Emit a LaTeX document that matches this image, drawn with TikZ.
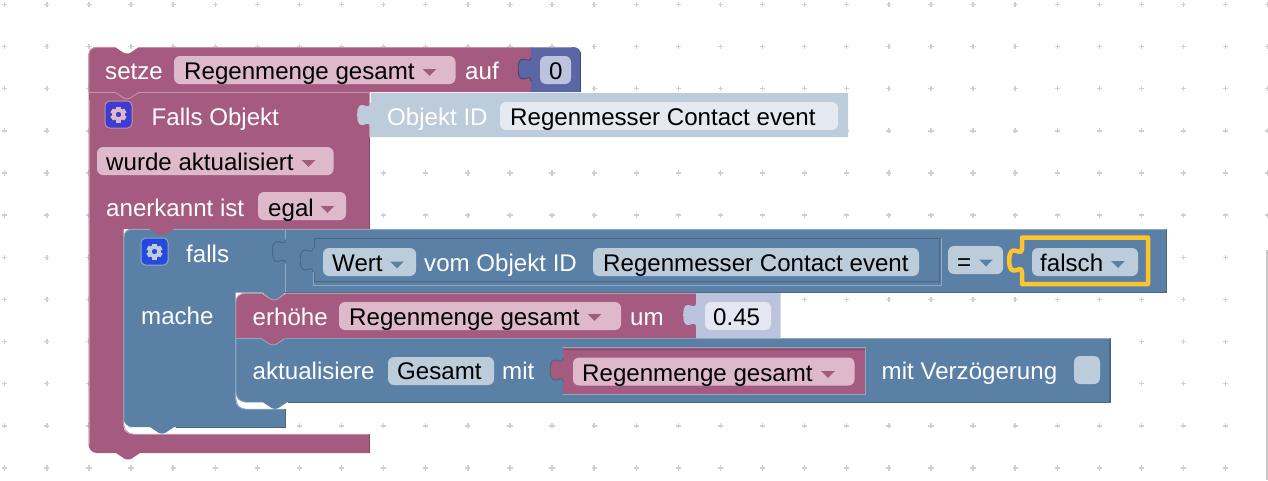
\documentclass[tikz,border=0pt]{standalone}
\usepackage{fontspec}
\setmainfont{Liberation Sans}
\definecolor{mg}{HTML}{A55B80}
\definecolor{mgl}{HTML}{C08FA8}
\definecolor{mgd}{HTML}{844966}
\definecolor{mgf}{HTML}{DDB9CB}
\definecolor{bl}{HTML}{5B80A5}
\definecolor{bll}{HTML}{8FA8C0}
\definecolor{bld}{HTML}{496684}
\definecolor{blf}{HTML}{BDCCDB}
\definecolor{pale}{HTML}{BDCCDB}
\definecolor{palef}{HTML}{E4EAF0}
\definecolor{lav}{HTML}{BCC3DD}
\definecolor{lavf}{HTML}{E4E7F1}
\definecolor{ind}{HTML}{5B67A5}
\definecolor{indl}{HTML}{8F98C0}
\definecolor{yel}{HTML}{FEC52E}
\definecolor{dotc}{HTML}{D0D0D0}
\definecolor{btna}{HTML}{3E3CD0}
\definecolor{btnb}{HTML}{2648DE}
\tikzset{
  x=1pt,y=-1pt,
  lbl/.style={inner sep=0pt,anchor=base west,font=\fontsize{24.1}{28}\selectfont},
  wht/.style={lbl,text=white},
  blk/.style={lbl,text=black},
  field/.style={rounded corners=6pt,draw=none},
}
\newcommand{\tabup}[2]{%
 -- (#1,#2+24) .. controls (#1,#2+14) and (#1-12.8,#2+32) .. (#1-12.8,#2+12)
 .. controls (#1-12.8,#2-8) and (#1,#2+10) .. (#1,#2)}
\newcommand{\tabline}[3]{%
 \draw[#3,line width=0.9pt] (#1,#2+24) .. controls (#1,#2+14) and (#1-12.8,#2+32) .. (#1-12.8,#2+12)
 .. controls (#1-12.8,#2-8) and (#1,#2+10) .. (#1,#2);}
\newcommand{\notchR}[2]{%
 -- (#1,#2) -- (#1+8.4,#2+5.6) .. controls (#1+10,#2+6.8) and (#1+14,#2+6.8) .. (#1+15.6,#2+5.6) -- (#1+24,#2)}
\newcommand{\notchL}[2]{%
 -- (#1+24,#2) -- (#1+15.6,#2+5.6) .. controls (#1+14,#2+6.8) and (#1+10,#2+6.8) .. (#1+8.4,#2+5.6) -- (#1,#2)}
\newcommand{\fieldbox}[6]{%
 \fill[field,#6] (#2,#3) rectangle (#4,#5);\coordinate (#1) at (#2,#3);}
\newcommand{\caretat}[3]{\fill[#3] (#1-6.8,#2-3.5) -- (#1+6.8,#2-3.5) -- (#1,#2+3.5) -- cycle;}
\newcommand{\gear}[3]{%
 \begin{scope}[shift={(#1,#2)}]
 \foreach \a in {0,60,...,300}{\fill[#3,rotate=\a] (-2.3,-8) rectangle (2.3,-4);}
 \fill[#3,even odd rule] (0,0) circle (6.4pt) (0,0) circle (2.8pt);
 \end{scope}}
\begin{document}
\begin{tikzpicture}
\useasboundingbox (0,0) rectangle (1268,480);
\fill[white] (0,0) rectangle (1268,480);
% dot grid
\foreach \i in {0,...,30}{\foreach \j in {0,...,11}{
  \pgfmathsetmacro\px{4.7+42.1*\i}\pgfmathsetmacro\py{4.5+42.13*\j}
  \fill[dotc] (\px-0.7,\py-2.6) rectangle (\px+0.7,\py+2.6);
  \fill[dotc] (\px-2.6,\py-0.7) rectangle (\px+2.6,\py+0.7);
}}
\fill[white] (1258,250) rectangle (1268,480);
\fill[black!22] (1266,250) rectangle (1268,480);

% big falls-object block
\fill[mg] (96.5,92) \notchR{115}{92} -- (369.7,92) -- (369.7,229) -- (123.5,229) -- (123.5,426)
  .. controls (123.5,431) and (127,434) .. (132,434) -- (369.7,434) -- (369.7,453) \notchL{116}{453}
  -- (97,453) .. controls (92,453) and (88.5,449) .. (88.5,444) -- (88.5,92) -- cycle;
\draw[mgl,line width=0.9pt] (123.5,420) .. controls (123.5,430) and (127,434.3) .. (134,434.3) -- (369,434.3);
\draw[mgl,line width=0.9pt] (89,100) -- (89,444);
\draw[mgd,line width=1pt] (369.6,434) -- (369.6,453);
\draw[mgd,line width=1pt] (369.6,137) -- (369.6,228.5);
% Objekt ID block
\fill[pale] (370,93) -- (848,93) -- (848,137) -- (370,137) \tabup{370}{103} -- cycle;
\draw[white,line width=0.8pt] (370,93) -- (370,103);
% top set block
\fill[mg] (88.5,92) -- (88.5,55) .. controls (88.5,50) and (92,47) .. (97,47) \notchR{115}{47} -- (531,47) -- (531,92) \notchL{115}{92} -- cycle;
\draw[mgl,line width=0.9pt] (88.9,92) -- (88.9,55) .. controls (88.9,50) and (92,47.4) .. (97,47.4) -- (115,47.4);
\draw[mgl,line width=0.9pt] (88.5,92.3) -- (115,92.3) -- (123.4,97.9) .. controls (125,99.1) and (129,99.1) .. (130.6,97.9) -- (139,92.3) -- (369,92.3);
\draw[mgl,line width=0.9pt] (139,47.4) -- (531,47.4);
% value block 0
\fill[ind] (531,47) -- (572.7,47) .. controls (577,47) and (580.7,49) .. (580.7,54) -- (580.7,92) -- (531,92) \tabup{531}{57} -- cycle;
\tabline{531}{57}{black!30!ind}
\draw[indl,line width=0.8pt] (532,47.4) -- (572,47.4);
\draw[black!30!ind,line width=1pt] (580.4,52) -- (580.4,92);
% condition extension
\fill[bl] (285,229) -- (1166.5,229) -- (1166.5,292.7) -- (285,292.7) -- cycle;
\draw[bll,line width=0.8pt] (285,229.4) -- (1166,229.4);
\draw[bld,line width=1.2pt] (1166.3,229) -- (1166.3,292.5) -- (285,292.5);
% falls block
\fill[bl] (132,229) -- (285.5,229) -- (285.5,292.7) -- (235.7,292.7) -- (235.7,400) .. controls (235.7,406) and (240,409) .. (245,409) -- (285,409) -- (285,427) \notchL{150}{427} -- (133,427) .. controls (127,427) and (123.5,423) .. (123.5,418) -- (123.5,238) .. controls (123.5,232) and (127,229) .. (132,229) -- cycle;
\draw[bll,line width=0.9pt] (124,418) -- (124,238) .. controls (124,232) and (127,229.4) .. (132,229.4) -- (284.7,229.4);
\fill[mg] (148,228) -- (175,228) -- (167,233.6) .. controls (164,235.6) and (159,235.6) .. (156,233.6) -- cycle;
\draw[bll,line width=0.9pt] (235.9,398) .. controls (235.9,405) and (240,409.2) .. (246,409.2) -- (284,409.2);
\draw[bld,line width=1pt] (285,409.2) -- (285,427) -- (176,427);
% condition joints
\draw[bll,line width=1pt] (285.3,229) -- (285.3,239.5) (285.3,263) -- (285.3,292);
\tabline{285.3}{239.5}{bld}
% statement: aktualisiere
\fill[bl] (235.7,338) -- (1110,338) -- (1110,402.3) \notchL{263}{402.3} -- (247,402.3) .. controls (240,402.3) and (235.7,398) .. (235.7,392) -- cycle;
\draw[bld,line width=1.1pt] (1110,338) -- (1110,402.3) -- (288,402.3);
\draw[bll,line width=0.8pt] (286,338.4) -- (1110,338.4);
\draw[bll,line width=0.9pt] (236,338) -- (236,392) .. controls (236,398) and (240,402) .. (247,402.3);
% erhoehe block
\fill[mg] (235.7,338) -- (235.7,302) .. controls (235.7,296.5) and (240,293) .. (246,293) \notchR{262}{293} -- (696,293) -- (696,338) \notchL{261}{338} -- cycle;
\fill[bl] (262,292) -- (286,292) -- (277.6,298.6) .. controls (276,299.8) and (272,299.8) .. (270.4,298.6) -- cycle;
\draw[mgl,line width=0.9pt] (236,337) -- (236,302) .. controls (236,296.5) and (240,293.4) .. (246,293.4) -- (262,293.4) -- (270.4,299) .. controls (272,300.2) and (276,300.2) .. (277.6,299) -- (286,293.4) -- (696,293.4);
\draw[bll,line width=0.9pt] (236,338.4) -- (261,338.4) -- (269.4,344) .. controls (271,345.2) and (275,345.2) .. (276.6,344) -- (285,338.4);
% 0.45 block
\fill[lav] (696,293) -- (780.7,293) -- (780.7,338) -- (696,338) \tabup{696}{303} -- cycle;
% Wert block
\fill[bl] (313,238) -- (940.7,238) -- (940.7,285) -- (313,285) \tabup{313}{248} -- cycle;
\draw[bld,line width=1pt] (940.7,238.4) -- (314,238.4) -- (314,248);
\tabline{313}{248}{bld}
\draw[bld,line width=1pt] (314,272) -- (314,281.5) -- (939.5,281.5) -- (939.5,238);
\draw[bll,line width=1pt] (313,285) -- (941.5,285) -- (941.5,238);
\draw[bll,line width=0.8pt] (313,272) -- (313,285);
% selected falsch block
\draw[yel,line width=4.5pt,line join=round] (1022,237.5) -- (1148,237.5) -- (1148,284) -- (1022,284) \tabup{1022}{248.5} -- cycle;
% var block
\fill[mg] (563,348) -- (865.5,348) -- (865.5,394) -- (563,394) \tabup{563}{358} -- cycle;
\tabline{563}{358}{bld}
\draw[bll,line width=0.9pt] (563,347.6) -- (865.6,347.6) -- (865.6,394.2) -- (563,394.2);
\draw[mgd,line width=0.9pt] (564,349) -- (864.5,349);
% fields
\fieldbox{f1}{174}{56}{455.5}{84}{mgf}
\fieldbox{f2}{540}{56}{571}{84}{lav}
\fieldbox{f3}{500}{102}{838}{130}{palef}
\fieldbox{f4}{97}{147}{333.5}{175}{mgf}
\fieldbox{f5}{258}{192}{346}{220}{mgf}
\fieldbox{f6}{323}{248}{416}{276}{blf}
\fieldbox{f7}{593}{248}{919}{276}{blf}
\fieldbox{f8}{948}{246}{1003}{274}{blf}
\fieldbox{f9}{1032}{248}{1138}{276}{blf}
\fieldbox{f10}{339}{302}{621}{330}{mgf}
\fieldbox{f11}{705}{302}{771}{330}{lavf}
\fieldbox{f12}{388}{357}{494}{385}{blf}
\fieldbox{f13}{573}{357.5}{854.5}{385.5}{mgf}
\fieldbox{f14}{1074}{356}{1100}{384}{blf}
% carets
\caretat{429.5}{72.5}{mg}
\caretat{308.5}{163.5}{mg}
\caretat{327.5}{209.5}{mg}
\caretat{397}{265}{bl}
\caretat{986}{263}{bl}
\caretat{1118}{264.5}{bl}
\caretat{594.5}{317.5}{mg}
\caretat{828}{374.5}{mg}
% buttons
\fill[mgl,rounded corners=5pt] (104.5,100.5) rectangle (132.5,128.5);
\fill[btna,rounded corners=4.5pt] (105.5,101.5) rectangle (131.5,127.5);
\gear{118.5}{114.5}{mgf}
\fill[bll,rounded corners=5pt] (140.5,237.5) rectangle (168.5,265.5);
\fill[btnb,rounded corners=4.5pt] (141.5,238.5) rectangle (167.5,264.5);
\gear{154.5}{251.5}{blf}
% text
\node[wht] (t1) at (105,79.5) {setze};
\node[blk] (t2) at (184,79.5) {Regenmenge gesamt};
\node[wht] (t3) at (465,79.5) {auf};
\node[blk] (t4) at (549,79.5) {0};
\node[wht] (t5) at (151.5,125.5) {Falls Objekt};
\node[wht] (t6) at (387,125.5) {Objekt ID};
\node[blk] (t7) at (510,125.5) {Regenmesser Contact event};
\node[blk] (t8) at (106,170.5) {wurde aktualisiert};
\node[wht] (t9) at (106,216.5) {anerkannt ist};
\node[blk] (t10) at (268,216.5) {egal};
\node[wht] (t11) at (186,262) {falls};
\node[blk] (t12) at (332,271.5) {Wert};
\node[wht] (t13) at (424,271.5) {vom Objekt ID};
\node[blk] (t14) at (603,271.5) {Regenmesser Contact event};
\node[blk] (t15) at (957,270.5) {=};
\node[blk] (t16) at (1040,271.5) {falsch};
\node[wht] (t17) at (141,324) {mache};
\node[wht] (t18) at (252.5,325.5) {erhöhe};
\node[blk] (t19) at (349,325.5) {Regenmenge gesamt};
\node[wht] (t20) at (630,325.5) {um};
\node[blk] (t21) at (713,325.5) {0.45};
\node[wht] (t22) at (252.5,379.5) {aktualisiere};
\node[blk] (t23) at (397,379.5) {Gesamt};
\node[wht] (t24) at (502,379.5) {mit};
\node[blk] (t25) at (582,381.5) {Regenmenge gesamt};
\node[wht] (t26) at (881.5,379.5) {mit Verzögerung};
\end{tikzpicture}
\end{document}
